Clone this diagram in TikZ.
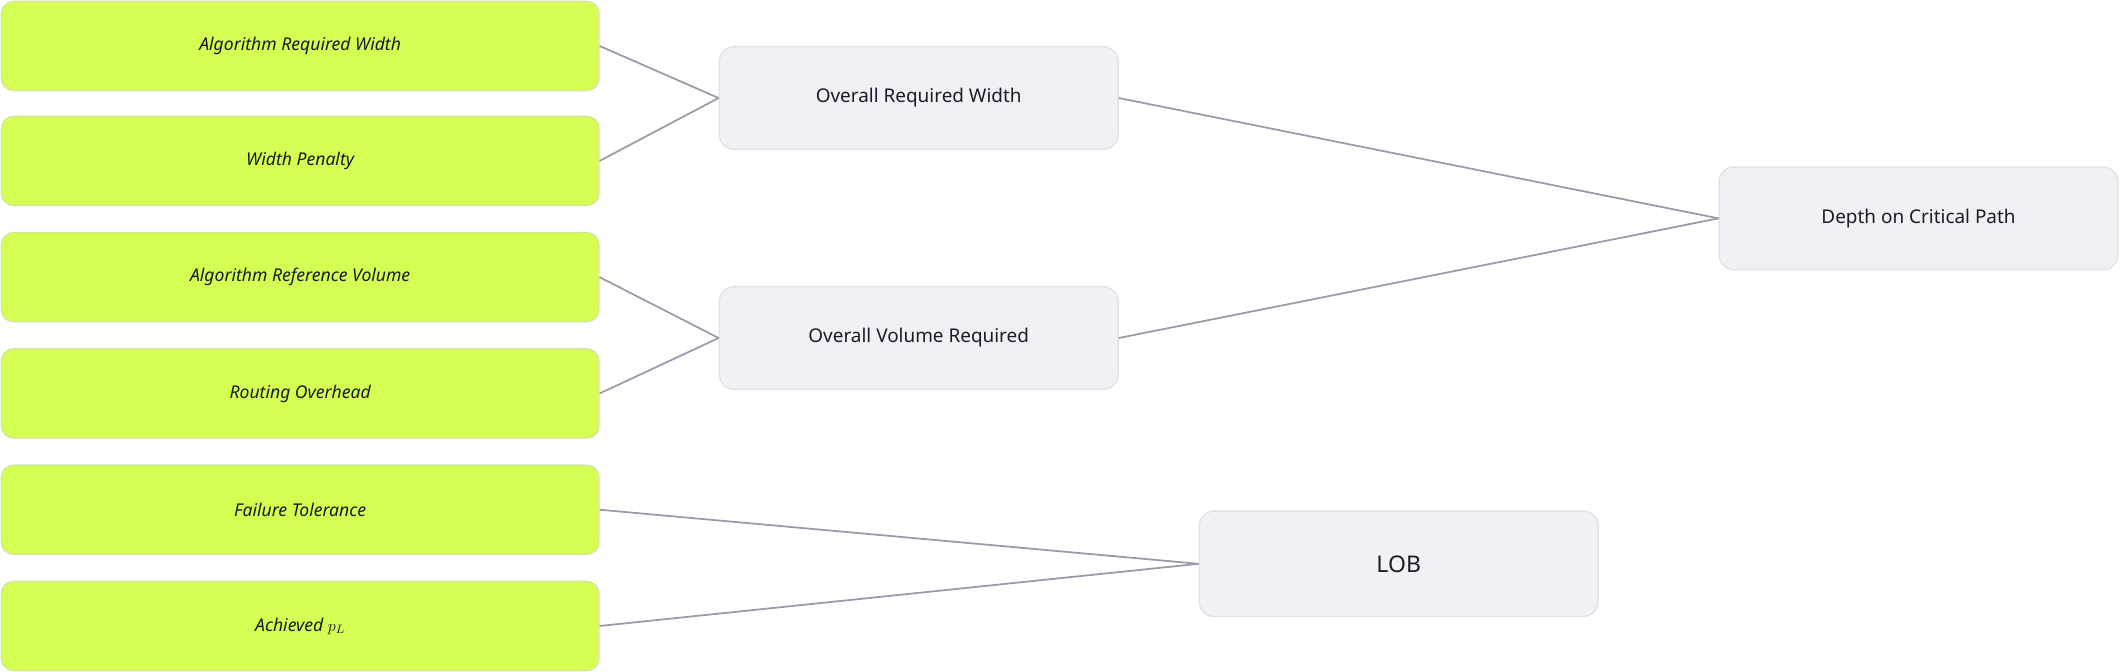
\documentclass[tikz,border=0pt]{standalone}
\usepackage{fontspec}
\setmainfont{Noto Sans}
\definecolor{lime}{HTML}{D4FF52}
\definecolor{limeb}{HTML}{D2E6A0}
\definecolor{gbox}{HTML}{F0F1F5}
\definecolor{gboxb}{HTML}{E0E2E8}
\definecolor{conn}{HTML}{9A9AA8}
\definecolor{txt}{HTML}{1A1A2A}
\begin{document}
\begin{tikzpicture}[x=1pt,y=-1pt,
  leaf/.style={draw=limeb,fill=lime,rounded corners=9pt,line width=1pt,minimum width=442pt,minimum height=66pt,inner sep=0pt,font=\fontsize{13}{15}\selectfont\itshape,text=txt},
  mid/.style={draw=gboxb,fill=gbox,rounded corners=11pt,line width=1pt,minimum width=295pt,minimum height=76pt,inner sep=0pt,font=\fontsize{14}{16}\selectfont\bfseries,text=txt},
  con/.style={draw=conn,line width=1.3pt}]
\useasboundingbox (0,0) rectangle (1568,497);
\node[leaf] (a1) at (222,34) {Algorithm Required Width};
\node[leaf] (a2) at (222,119) {Width Penalty};
\node[leaf] (a3) at (222,205) {Algorithm Reference Volume};
\node[leaf] (a4) at (222,291) {Routing Overhead};
\node[leaf] (a5) at (222,377) {Failure Tolerance};
\node[leaf] (a6) at (222,463) {Achieved $p_L$};
\node[mid] (w) at (679.5,72.5) {Overall Required Width};
\node[mid] (v) at (679.5,250) {Overall Volume Required};
\node[mid] (d) at (1419,161.5) {Depth on Critical Path};
\node[mid,minimum height=78pt,font=\fontsize{17}{19}\selectfont\bfseries] (l) at (1034.5,417) {LOB};
\draw[con] (a1.east) -- (w.west);
\draw[con] (a2.east) -- (w.west);
\draw[con] (a3.east) -- (v.west);
\draw[con] (a4.east) -- (v.west);
\draw[con] (w.east) -- (d.west);
\draw[con] (v.east) -- (d.west);
\draw[con] (a5.east) -- (l.west);
\draw[con] (a6.east) -- (l.west);
\end{tikzpicture}
\end{document}
